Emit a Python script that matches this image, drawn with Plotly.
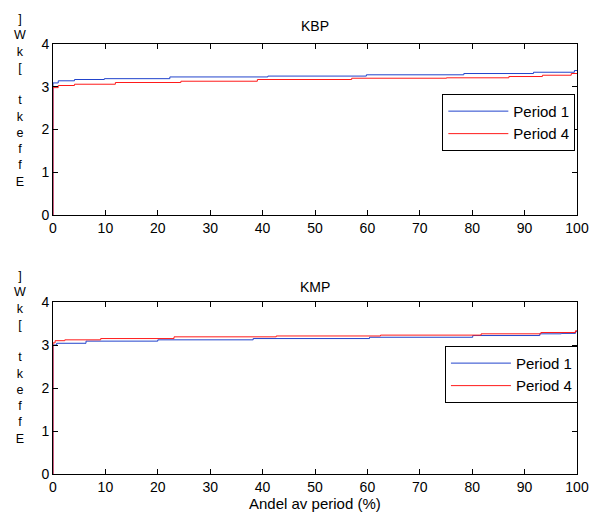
import plotly.graph_objects as go

# KBP (top) – step duration curves
kbp_p1_x = [0, 0.001, 1.0, 4.1, 9.8, 22.3, 41.0, 59.8, 78.4, 91.7, 99.5, 100]
kbp_p1_y = [0, 3.09, 3.14, 3.17, 3.19, 3.23, 3.25, 3.28, 3.31, 3.34, 3.38, 3.38]
kbp_p4_x = [0, 0.001, 1.0, 4.1, 11.9, 24.4, 39.0, 57.0, 75.1, 87.0, 93.4, 98.9, 100]
kbp_p4_y = [0, 2.98, 3.03, 3.06, 3.10, 3.13, 3.17, 3.20, 3.21, 3.24, 3.27, 3.31, 3.31]

# KMP (bottom)
kmp_p1_x = [0, 0.001, 0.7, 6.3, 20.0, 38.2, 60.4, 80.1, 92.9, 97.0, 99.7, 100]
kmp_p1_y = [0, 3.00, 3.04, 3.09, 3.12, 3.15, 3.18, 3.22, 3.26, 3.27, 3.31, 3.31]
kmp_p4_x = [0, 0.001, 0.4, 2.25, 9.1, 23.1, 42.6, 62.5, 81.7, 93.1, 99.7, 100]
kmp_p4_y = [0, 3.05, 3.10, 3.12, 3.15, 3.19, 3.21, 3.23, 3.26, 3.29, 3.33, 3.33]

series_names = ["Period 1", "Period 4"]
titles = ["KBP", "KMP"]
x_title = "Andel av period (%)"
x_ticks = list(range(0, 101, 10))
y_ticks = [0, 1, 2, 3, 4]
ylabel_chars = ["]", "W", "k", "[", "&nbsp;", "t", "k", "e", "f", "f", "E"]

BLUE = "#2244cc"
RED = "#ff1a1a"
FONT = "Liberation Sans, Arial, sans-serif"

fig = go.Figure()
fig.add_trace(go.Scatter(x=kbp_p1_x, y=kbp_p1_y, mode="lines", line=dict(color=BLUE, width=1, shape="hv"),
                         name=series_names[0], xaxis="x", yaxis="y", legend="legend"))
fig.add_trace(go.Scatter(x=kbp_p4_x, y=kbp_p4_y, mode="lines", line=dict(color=RED, width=1, shape="hv"),
                         name=series_names[1], xaxis="x", yaxis="y", legend="legend"))
fig.add_trace(go.Scatter(x=kmp_p1_x, y=kmp_p1_y, mode="lines", line=dict(color=BLUE, width=1, shape="hv"),
                         name=series_names[0], xaxis="x2", yaxis="y2", legend="legend2"))
fig.add_trace(go.Scatter(x=kmp_p4_x, y=kmp_p4_y, mode="lines", line=dict(color=RED, width=1, shape="hv"),
                         name=series_names[1], xaxis="x2", yaxis="y2", legend="legend2"))

axis_common = dict(showline=True, linecolor="black", linewidth=1, mirror="ticks", ticks="inside",
                   ticklen=5, tickcolor="black", showgrid=False, zeroline=False,
                   tickfont=dict(family=FONT, size=14, color="black"))

legend_common = dict(bordercolor="black", borderwidth=1, bgcolor="white",
                     font=dict(family=FONT, size=15, color="black"),
                     xanchor="left", yanchor="top", itemwidth=60, tracegroupgap=0)

fig.update_layout(
    width=601, height=514,
    margin=dict(l=53, r=15, t=44, b=40),
    paper_bgcolor="white", plot_bgcolor="white",
    showlegend=True,
    xaxis=dict(domain=[0, 1], range=[0, 100], tickvals=x_ticks, anchor="y", **axis_common),
    yaxis=dict(domain=[0.602, 1], range=[0, 4], tickvals=y_ticks, anchor="x", **axis_common),
    xaxis2=dict(domain=[0, 1], range=[0, 100], tickvals=x_ticks, anchor="y2", **axis_common),
    yaxis2=dict(domain=[0, 0.4], range=[0, 4], tickvals=y_ticks, anchor="x2", **axis_common),
    legend=dict(x=0.743, y=0.884, **legend_common),
    legend2=dict(x=0.748, y=0.298, **legend_common),
)

fig.add_annotation(text=x_title, xref="paper", yref="paper", x=0.5, y=(474 - 503) / 430,
                   yanchor="middle", xanchor="center", showarrow=False,
                   font=dict(family=FONT, size=15, color="black"))

ylabel = "<br>".join(ylabel_chars)
for title, ycen, ytitle in [(titles[0], 100, 26), (titles[1], 358, 287)]:
    fig.add_annotation(text=title, xref="paper", yref="paper", x=0.5,
                       y=(474 - ytitle) / 430, yanchor="middle", xanchor="center", showarrow=False,
                       font=dict(family=FONT, size=14, color="black"))
    fig.add_annotation(text=ylabel, xref="paper", yref="paper", x=(19 - 53) / 533,
                       y=(474 - ycen) / 430, yanchor="middle", xanchor="center", showarrow=False,
                       font=dict(family=FONT, size=12.5, color="black"))

fig.write_html("out.html")
